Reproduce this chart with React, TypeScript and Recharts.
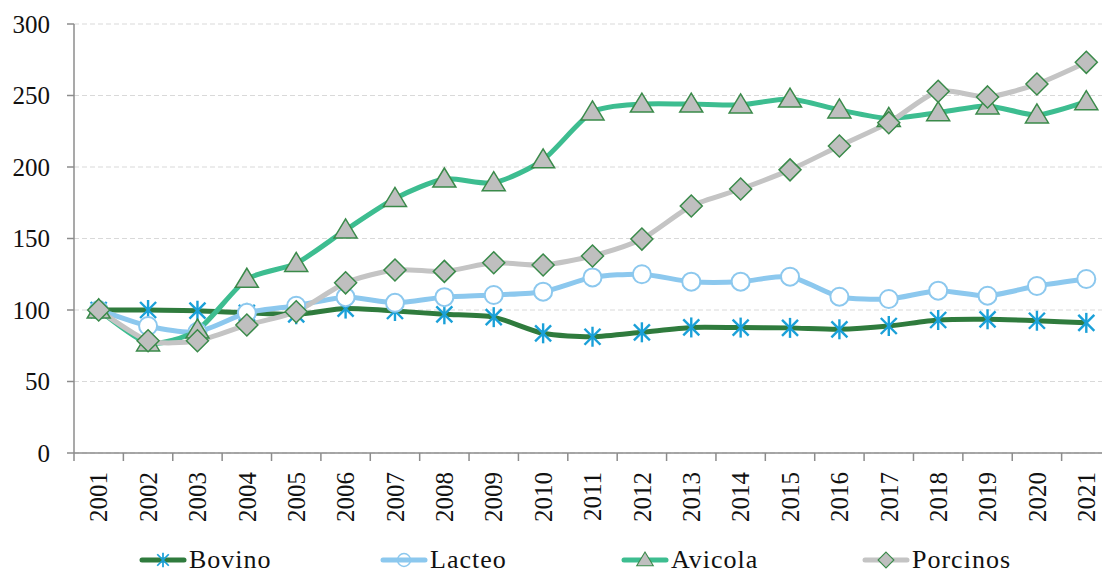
import { CartesianGrid, Line, LineChart, XAxis, YAxis } from "recharts";

const years = [
	"2001", "2002", "2003", "2004", "2005", "2006", "2007", "2008", "2009", "2010", "2011",
	"2012", "2013", "2014", "2015", "2016", "2017", "2018", "2019", "2020", "2021",
];
const bovino = [100, 100, 99.5, 98, 97, 101, 99.3, 97, 95, 83.7, 81.3, 84.4, 87.8, 87.7, 87.5, 86.5, 88.8, 93, 93.5, 92.5, 91];
const lacteo = [100, 88.8, 84.8, 98, 103, 109, 105, 109, 110.5, 112.8, 122.8, 125, 119.8, 119.8, 123.3, 109.3, 107.7, 113.5, 110, 116.8, 121.7];
const avicola = [100, 77, 86, 121.5, 132.6, 156, 178, 191.6, 189, 205, 238.5, 244, 244, 243.4, 247.5, 239.9, 234, 238, 242.7, 236.4, 245.7];
const porcinos = [100, 78.5, 78.5, 89.5, 98.8, 119, 128, 127, 133, 131.5, 137.8, 149.6, 172.7, 184.6, 198, 214.7, 231, 253, 249, 258, 273.2];
const yTicks = [0, 50, 100, 150, 200, 250, 300];

const data = years.map((year, i) => ({
	year,
	bovino: bovino[i],
	lacteo: lacteo[i],
	avicola: avicola[i],
	porcinos: porcinos[i],
}));

const FONT = "Liberation Serif";
const AXIS = "#8c8c8c";
const MARK_GREEN = "#3a8a4a";
const GREY = "#bfbfbf";

const COLORS = {
	bovino: "#2f7b3d",
	lacteo: "#8cc8ee",
	avicola: "#3dbd90",
	porcinos: "#c4c4c4",
};

const CHART_W = 1120;
const PLOT_LEFT = 74;
const PLOT_RIGHT = 1111;
const BAND = (PLOT_RIGHT - PLOT_LEFT) / years.length;

// light spline, close to the spreadsheet's "smoothed line"
const smooth = (k: number) => (ctx: any) => {
	let pts: number[][] = [];
	return {
		areaStart() {},
		areaEnd() {},
		lineStart() {
			pts = [];
		},
		point(x: number, y: number) {
			pts.push([+x, +y]);
		},
		lineEnd() {
			if (!pts.length) return;
			ctx.moveTo(pts[0][0], pts[0][1]);
			for (let i = 0; i < pts.length - 1; i++) {
				const p0 = pts[i - 1] || pts[i];
				const p1 = pts[i];
				const p2 = pts[i + 1];
				const p3 = pts[i + 2] || p2;
				ctx.bezierCurveTo(
					p1[0] + (p2[0] - p0[0]) * k,
					p1[1] + (p2[1] - p0[1]) * k,
					p2[0] - (p3[0] - p1[0]) * k,
					p2[1] - (p3[1] - p1[1]) * k,
					p2[0],
					p2[1],
				);
			}
		},
	};
};
const curve = smooth(0.12);

function Star({ cx, cy }: { cx: number; cy: number }) {
	const r = 10;
	const d = r * 0.8;
	return (
		<g stroke="#1aa0d8" strokeWidth={2.4}>
			<line x1={cx} y1={cy - r} x2={cx} y2={cy + r} />
			<line x1={cx - d} y1={cy - d} x2={cx + d} y2={cy + d} />
			<line x1={cx - d} y1={cy + d} x2={cx + d} y2={cy - d} />
		</g>
	);
}

function Ring({ cx, cy, hollow }: { cx: number; cy: number; hollow?: boolean }) {
	return (
		<circle cx={cx} cy={cy} r={9} fill={hollow ? "none" : "#fff"} stroke={COLORS.lacteo} strokeWidth={2} />
	);
}

function Tri({ cx, cy }: { cx: number; cy: number }) {
	return (
		<polygon
			points={`${cx},${cy - 11} ${cx - 11.5},${cy + 8} ${cx + 11.5},${cy + 8}`}
			fill={GREY}
			stroke={MARK_GREEN}
			strokeWidth={1.5}
		/>
	);
}

function Diamond({ cx, cy }: { cx: number; cy: number }) {
	const r = 11;
	return (
		<polygon
			points={`${cx},${cy - r} ${cx + r},${cy} ${cx},${cy + r} ${cx - r},${cy}`}
			fill={GREY}
			stroke={MARK_GREEN}
			strokeWidth={1.5}
		/>
	);
}

const dotFor = (Shape: any) => (props: any) => {
	if (props.cx == null || props.cy == null) return <g key={props.index} />;
	return <Shape key={props.index} cx={props.cx} cy={props.cy} />;
};

const XTick = ({ x, y, payload, index }: any) => {
	const half = BAND / 2;
	return (
		<g>
			<line x1={x - half} y1={y} x2={x - half} y2={y + 8} stroke={AXIS} strokeWidth={1.5} />
			{index === years.length - 1 && (
				<line x1={x + half} y1={y} x2={x + half} y2={y + 8} stroke={AXIS} strokeWidth={1.5} />
			)}
			<text
				x={x}
				y={y + 19}
				transform={`rotate(-90, ${x}, ${y + 19})`}
				textAnchor="end"
				dy="0.35em"
				fontSize={25}
				style={{ fontFamily: FONT }}
				fill="#111"
			>
				{payload.value}
			</text>
		</g>
	);
};

const legendItems = [
	{ label: "Bovino", color: COLORS.bovino, Shape: Star },
	{ label: "Lacteo", color: COLORS.lacteo, Shape: Ring },
	{ label: "Avicola", color: COLORS.avicola, Shape: Tri },
	{ label: "Porcinos", color: COLORS.porcinos, Shape: Diamond },
];

function ChartLegend() {
	return (
		<div
			style={{
				position: "absolute",
				left: 140,
				top: 546,
				display: "flex",
				fontFamily: FONT,
				fontSize: 26,
				letterSpacing: 1,
				color: "#111",
			}}
		>
			{legendItems.map(({ label, color, Shape }) => (
				<div key={label} style={{ width: 241, display: "flex", alignItems: "center" }}>
					<svg width={46} height={28} style={{ overflow: "visible" }}>
						<line x1={2} y1={14} x2={44} y2={14} stroke={color} strokeWidth={5} strokeLinecap="round" />
						<g transform="translate(23,14) scale(0.72) translate(-23,-14)">
							<Shape cx={23} cy={14} hollow />
						</g>
					</svg>
					<span style={{ marginLeft: 3, lineHeight: "28px" }}>{label}</span>
				</div>
			))}
		</div>
	);
}

export default function App() {
	return (
		<div
			style={{
				position: "absolute",
				left: 0,
				top: 0,
				width: 1102,
				height: 573,
				overflow: "hidden",
				background: "#fff",
				fontFamily: FONT,
			}}
		>
			<LineChart
				width={CHART_W}
				height={573}
				data={data}
				margin={{ top: 24, right: CHART_W - PLOT_RIGHT, left: 0, bottom: 0 }}
				style={{ fontFamily: FONT }}
			>
				<CartesianGrid vertical={false} stroke="#d9d9d9" strokeDasharray="5 3" strokeWidth={1.2} />
				<XAxis
					dataKey="year"
					height={120}
					interval={0}
					padding={{ left: BAND / 2, right: BAND / 2 }}
					tickSize={0}
					tickMargin={0}
					tickLine={false}
					axisLine={{ stroke: AXIS, strokeWidth: 1.5 }}
					tick={<XTick />}
				/>
				<YAxis
					width={PLOT_LEFT}
					domain={[0, 300]}
					ticks={yTicks}
					interval={0}
					tickSize={7}
					tickMargin={17}
					axisLine={{ stroke: AXIS, strokeWidth: 1.5 }}
					tickLine={{ stroke: AXIS, strokeWidth: 1.5 }}
					tick={{ fontSize: 25, fill: "#111", style: { fontFamily: FONT } }}
				/>
				<Line
					type={curve}
					dataKey="bovino"
					stroke={COLORS.bovino}
					strokeWidth={5}
					dot={dotFor(Star)}
					activeDot={false}
					isAnimationActive={false}
				/>
				<Line
					type={curve}
					dataKey="lacteo"
					stroke={COLORS.lacteo}
					strokeWidth={5}
					dot={dotFor(Ring)}
					activeDot={false}
					isAnimationActive={false}
				/>
				<Line
					type={curve}
					dataKey="avicola"
					stroke={COLORS.avicola}
					strokeWidth={5}
					dot={dotFor(Tri)}
					activeDot={false}
					isAnimationActive={false}
				/>
				<Line
					type={curve}
					dataKey="porcinos"
					stroke={COLORS.porcinos}
					strokeWidth={5}
					dot={dotFor(Diamond)}
					activeDot={false}
					isAnimationActive={false}
				/>
			</LineChart>
			<ChartLegend />
		</div>
	);
}
